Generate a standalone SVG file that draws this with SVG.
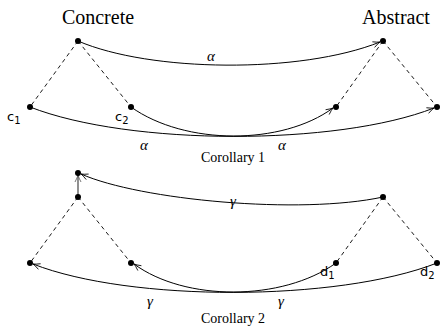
<svg xmlns="http://www.w3.org/2000/svg" width="441" height="327" viewBox="0 0 441 327">
<defs>
<style>
.title{font-family:"Liberation Serif",serif;font-size:20px;fill:#000}
.cap{font-family:"Liberation Serif",serif;font-size:14px;fill:#000}
.greek{font-family:"Liberation Serif",serif;font-style:italic;font-size:15px;fill:#000}
.var{font-family:"DejaVu Sans","Liberation Sans",sans-serif;font-size:13px;fill:#000}
.sub{font-size:10px}
.edge{fill:none;stroke:#000;stroke-width:1}
.dash{fill:none;stroke:#000;stroke-width:0.9;stroke-dasharray:4,3.5}
.node{fill:#000}
</style>
<marker id="arr" viewBox="-8 -4 9 8" refX="0" refY="0" markerWidth="9" markerHeight="8" markerUnits="userSpaceOnUse" orient="auto">
<path d="M-7,-3 Q-2.5,-0.6 0,0 Q-2.5,0.6 -7,3" fill="none" stroke="#000" stroke-width="0.8"/>
</marker>
<marker id="arrg" viewBox="-8 -4 9 8" refX="0" refY="0" markerWidth="9" markerHeight="8" markerUnits="userSpaceOnUse" orient="auto">
<path d="M-7,-3 Q-2.5,-0.6 0,0 Q-2.5,0.6 -7,3" fill="none" stroke="#555" stroke-width="0.8"/>
</marker>
</defs>
<rect width="441" height="327" fill="#fff"/>
<text class="title" x="98" y="24" text-anchor="middle">Concrete</text>
<text class="title" x="396" y="24" text-anchor="middle">Abstract</text>
<g id="connectors">
<path class="dash" d="M78,41 L30,107"/>
<path class="dash" d="M78,41 L131,107"/>
<path class="dash" d="M383,41 L336,107"/>
<path class="dash" d="M383,41 L437,107"/>
<path class="edge" marker-end="url(#arr)" d="M78,41 C150,72 300,74 380,42"/>
<path class="edge" marker-end="url(#arr)" d="M30,107 C130,146 337,146 434,108"/>
<path class="edge" marker-end="url(#arr)" d="M131,107 C185,145.5 282,145.5 333,108"/>
<path class="dash" d="M78,197 L30,263"/>
<path class="dash" d="M78,197 L131,263"/>
<path class="dash" d="M383,197 L336,263"/>
<path class="dash" d="M383,197 L437,263"/>
<path class="edge" marker-end="url(#arr)" d="M383,197 C300,215 140,200 81,174"/>
<path stroke="#555" stroke-width="1.3" fill="none" marker-end="url(#arrg)" d="M78,197 L78,175"/>
<path class="edge" marker-end="url(#arr)" d="M437,263 C337,302 130,302 33,264"/>
<path class="edge" marker-end="url(#arr)" d="M336,263 C282,301.5 185,301.5 134,264"/>
</g>
<g id="n-concrete1"><circle class="node" cx="78" cy="41" r="3"/></g>
<g id="n-c1"><circle class="node" cx="30" cy="107" r="3"/><text class="var" x="7" y="121">c<tspan class="sub" dy="3">1</tspan></text></g>
<g id="n-c2"><circle class="node" cx="131" cy="107" r="3"/><text class="var" x="115" y="121">c<tspan class="sub" dy="3">2</tspan></text></g>
<g id="n-abstract1"><circle class="node" cx="383" cy="41" r="3"/></g>
<g id="n-a1"><circle class="node" cx="336" cy="107" r="3"/></g>
<g id="n-a2"><circle class="node" cx="437" cy="107" r="3"/></g>
<text class="greek" x="211" y="61" text-anchor="middle">α</text>
<text class="greek" x="144" y="150" text-anchor="middle">α</text>
<text class="greek" x="282" y="150" text-anchor="middle">α</text>
<text class="cap" x="233" y="162" text-anchor="middle">Corollary 1</text>
<g id="n-top2"><circle class="node" cx="78" cy="173" r="3"/></g>
<g id="n-concrete2"><circle class="node" cx="78" cy="197" r="3"/></g>
<g id="n-l1"><circle class="node" cx="30" cy="263" r="3"/></g>
<g id="n-l2"><circle class="node" cx="131" cy="263" r="3"/></g>
<g id="n-abstract2"><circle class="node" cx="383" cy="197" r="3"/></g>
<g id="n-d1"><circle class="node" cx="336" cy="263" r="3"/><text class="var" x="320" y="276">d<tspan class="sub" dy="3">1</tspan></text></g>
<g id="n-d2"><circle class="node" cx="437" cy="263" r="3"/><text class="var" x="420" y="276">d<tspan class="sub" dy="3">2</tspan></text></g>
<text class="greek" x="233" y="206" text-anchor="middle">γ</text>
<text class="greek" x="150" y="306" text-anchor="middle">γ</text>
<text class="greek" x="281" y="306" text-anchor="middle">γ</text>
<text class="cap" x="233" y="323" text-anchor="middle">Corollary 2</text>
</svg>
